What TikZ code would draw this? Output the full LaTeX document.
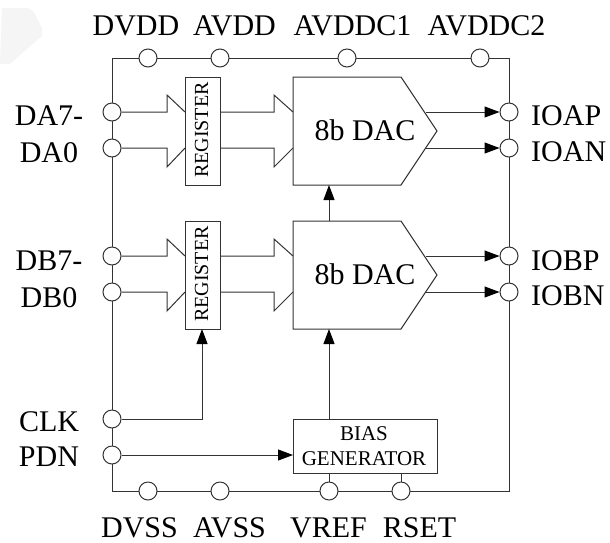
\documentclass[tikz,border=0pt]{standalone}
\usepackage{fontspec}
\setmainfont{Liberation Serif}
\usetikzlibrary{arrows.meta}
\definecolor{ink}{HTML}{333333}
\tikzset{
  wire/.style={draw=ink,line width=1pt},
  feed/.style={wire,-{Triangle[length=15pt,width=11pt,color=black]},shorten >=0pt},
  pin/.style={circle,draw=ink,line width=1pt,fill=white,minimum size=18pt,inner sep=0pt},
  blockbox/.style={draw=ink,line width=1pt,fill=white,inner sep=0pt,align=center},
  lab/.style={font=\fontsize{30}{30}\selectfont,inner sep=0pt,text=black,anchor=base},
  reglab/.style={rotate=90,font=\fontsize{20}{20}\selectfont,inner sep=0pt,anchor=base},
  biaslab/.style={font=\fontsize{21}{21}\selectfont,inner sep=0pt,anchor=base},
}
\begin{document}
\begin{tikzpicture}[x=1pt,y=-1pt]
\useasboundingbox (0,0) rectangle (610,542);
\fill[black!4] (2,8) -- (28,8) -- (34,12) -- (42,28) -- (42,36) -- (28,48) -- (10,64) -- (0,64) -- cycle;
% frame
\coordinate (fTL) at (112,58); \coordinate (fTR) at (509,58);
\coordinate (fBR) at (509,491); \coordinate (fBL) at (112,491);
\draw[wire] (fTL) -- (fTR) -- (fBR) -- (fBL) -- cycle;
% blocks
\node[blockbox,minimum width=35pt,minimum height=108pt] (rega) at (202.5,131) {};
\node[reglab] (regat) at (208,130) {REGISTER};
\node[blockbox,minimum width=35pt,minimum height=108pt] (regb) at (202.5,275) {};
\node[reglab] (regbt) at (208,274) {REGISTER};
\node[blockbox,minimum width=144pt,minimum height=54pt] (bias) at (365,446) {};
\node[biaslab] (biast1) at (364,440) {BIAS};
\node[biaslab] (biast2) at (364,465) {GENERATOR};
\draw[wire,fill=white] (293,77) -- (401,77) -- (437,131) -- (401,185) -- (293,185) -- cycle;
\draw[wire,fill=white] (293,221) -- (401,221) -- (437,275) -- (401,329) -- (293,329) -- cycle;
\node[lab] (daca) at (365,140) {8b DAC};
\node[lab] (dacb) at (365,284) {8b DAC};
\coordinate (dacaout1) at (426,112); \coordinate (dacaout2) at (426,148);
\coordinate (dacbout1) at (426,256); \coordinate (dacbout2) at (426,292);
\coordinate (dacabot) at (329,185); \coordinate (dacbtop) at (329,221);
\coordinate (dacbbot) at (329,329); \coordinate (biastop) at (329,419);
\coordinate (biasbot1) at (329,473); \coordinate (biasbot2) at (401,473);
\coordinate (regbbot) at (202,329); \coordinate (biasw) at (293,455);
% pins
\foreach \n/\x/\y in {dvdd/148/58,avdd/220/58,avddca/347/58,avddcb/480/58,
  dvss/148/491,avss/220/491,vref/329/491,rset/401/491,
  da/112/112,db/112/148,dc/112/256,dd/112/292,clk/112/419,pdn/112/455,
  ioap/509/112,ioan/509/148,iobp/509/256,iobn/509/292}
  \node[pin] (\n) at (\x,\y) {};
% bus arrows
\foreach \p/\y/\s in {da/112/-17,db/148/19,dc/256/-17,dd/292/19}
  \draw[wire] (\p.east) -- (167,\y) -- (167,\y+\s) -- (185,\y);
\foreach \y/\s in {112/-17,148/19,256/-17,292/19}
  \draw[wire] (220,\y) -- (274,\y) -- (274,\y+\s) -- (293,\y);
% outputs
\draw[feed] (dacaout1) -- (ioap.west);
\draw[feed] (dacaout2) -- (ioan.west);
\draw[feed] (dacbout1) -- (iobp.west);
\draw[feed] (dacbout2) -- (iobn.west);
% control
\draw[feed] (dacbtop) -- (dacabot);
\draw[feed] (biastop) -- (dacbbot);
\draw[feed] (clk.east) -- (202,419) -- (regbbot);
\draw[feed] (pdn.east) -- (biasw);
\draw[wire] (biasbot1) -- (vref.north);
\draw[wire] (biasbot2) -- (rset.north);
% labels
\node[lab] (t1) at (136,35) {DVDD};
\node[lab] (t2) at (234.5,35) {AVDD};
\node[lab] (t3) at (352.5,35) {AVDDC1};
\node[lab] (t4) at (486.5,35) {AVDDC2};
\node[lab] (l1) at (49,125) {DA7-};
\node[lab] (l2) at (49,162) {DA0};
\node[lab] (l3) at (49,270) {DB7-};
\node[lab] (l4) at (49,307) {DB0};
\node[lab] (l5) at (49,431) {CLK};
\node[lab] (l6) at (49,466) {PDN};
\node[lab,anchor=base west] (r1) at (531,125) {IOAP};
\node[lab,anchor=base west] (r2) at (531,161) {IOAN};
\node[lab,anchor=base west] (r3) at (531,270) {IOBP};
\node[lab,anchor=base west] (r4) at (531,305) {IOBN};
\node[lab] (b1) at (139.5,537) {DVSS};
\node[lab] (b2) at (229.5,537) {AVSS};
\node[lab] (b3) at (328.5,537) {VREF};
\node[lab] (b4) at (419.5,537) {RSET};
\end{tikzpicture}
\end{document}
